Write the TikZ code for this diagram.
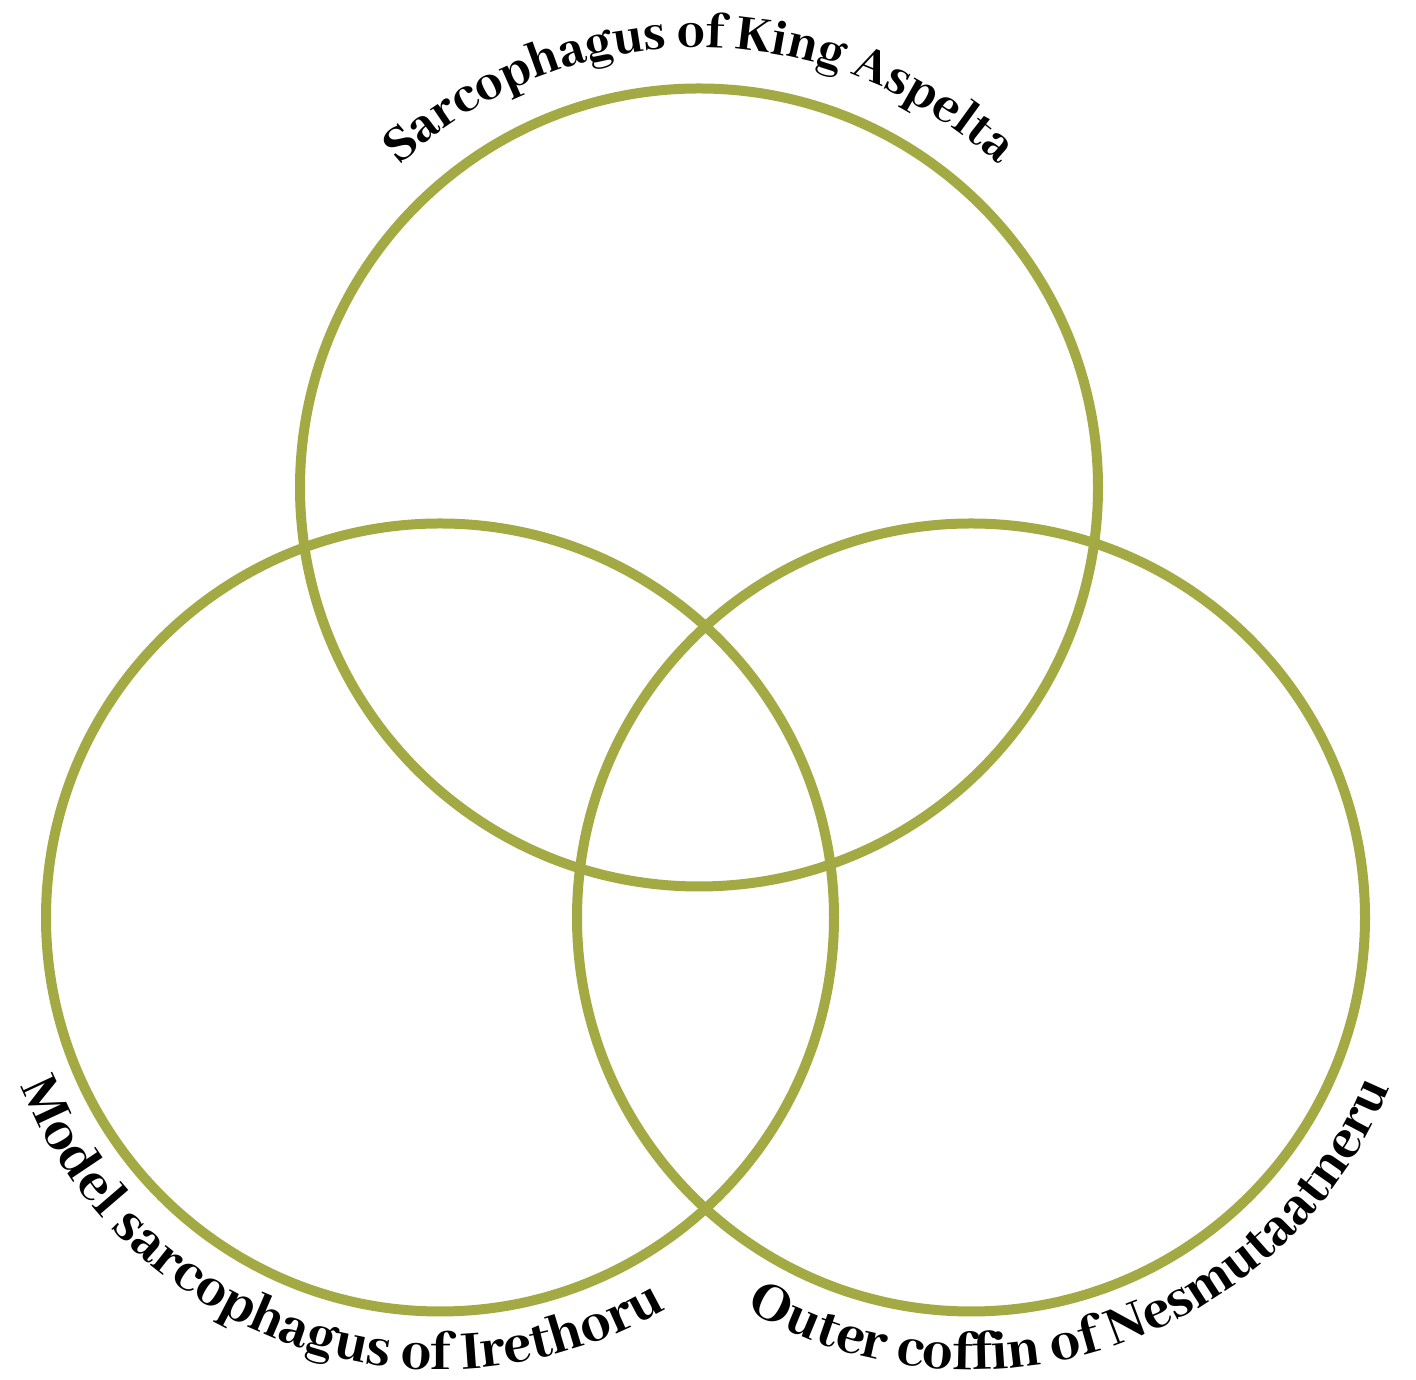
\documentclass[tikz,border=0pt]{standalone}
\usepackage{fontspec}
\setmainfont{Abhaya Libre}[BoldFont={Abhaya Libre ExtraBold}]
\usetikzlibrary{decorations.text}
\definecolor{vennolive}{RGB}{163,170,67}
\newcommand{\toplabelfont}{\fontsize{55}{66}\selectfont\bfseries}
\newcommand{\lowlabelfont}{\fontsize{60}{72}\selectfont\bfseries}
\tikzset{
  venn/.style  = {draw=vennolive, line width=10pt},
  setlabel/.style = {decorate, decoration={text along path, text align=center, text color=black}},
}

\begin{document}
\begin{tikzpicture}[x=1pt, y=1pt]
  \useasboundingbox (0,0) rectangle (1416,1380);
  % set centres
  \coordinate (aspelta)  at (699,892.5);
  \coordinate (irethoru) at (440,462.5);
  \coordinate (nesmut)   at (971,462.5);
  % circles
  \draw[venn] (aspelta)  circle[radius=399];
  \draw[venn] (irethoru) circle[radius=394];
  \draw[venn] (nesmut)   circle[radius=394];
  % labels along the rims
  \path[setlabel, decoration={text={|\toplabelfont|Sarcophagus of King Aspelta}}]
    ([shift={(180:440)}]aspelta) arc[start angle=180, end angle=0, radius=440];
  \path[setlabel, decoration={text={|\lowlabelfont|Model sarcophagus of Irethoru}}]
    ([shift={(161:452)}]irethoru) arc[start angle=161, end angle=341, radius=452];
  \path[setlabel, decoration={text={|\lowlabelfont|Outer coffin of Nesmutaatneru}}]
    ([shift={(199:452)}]nesmut) arc[start angle=199, end angle=379, radius=452];
\end{tikzpicture}
\end{document}
